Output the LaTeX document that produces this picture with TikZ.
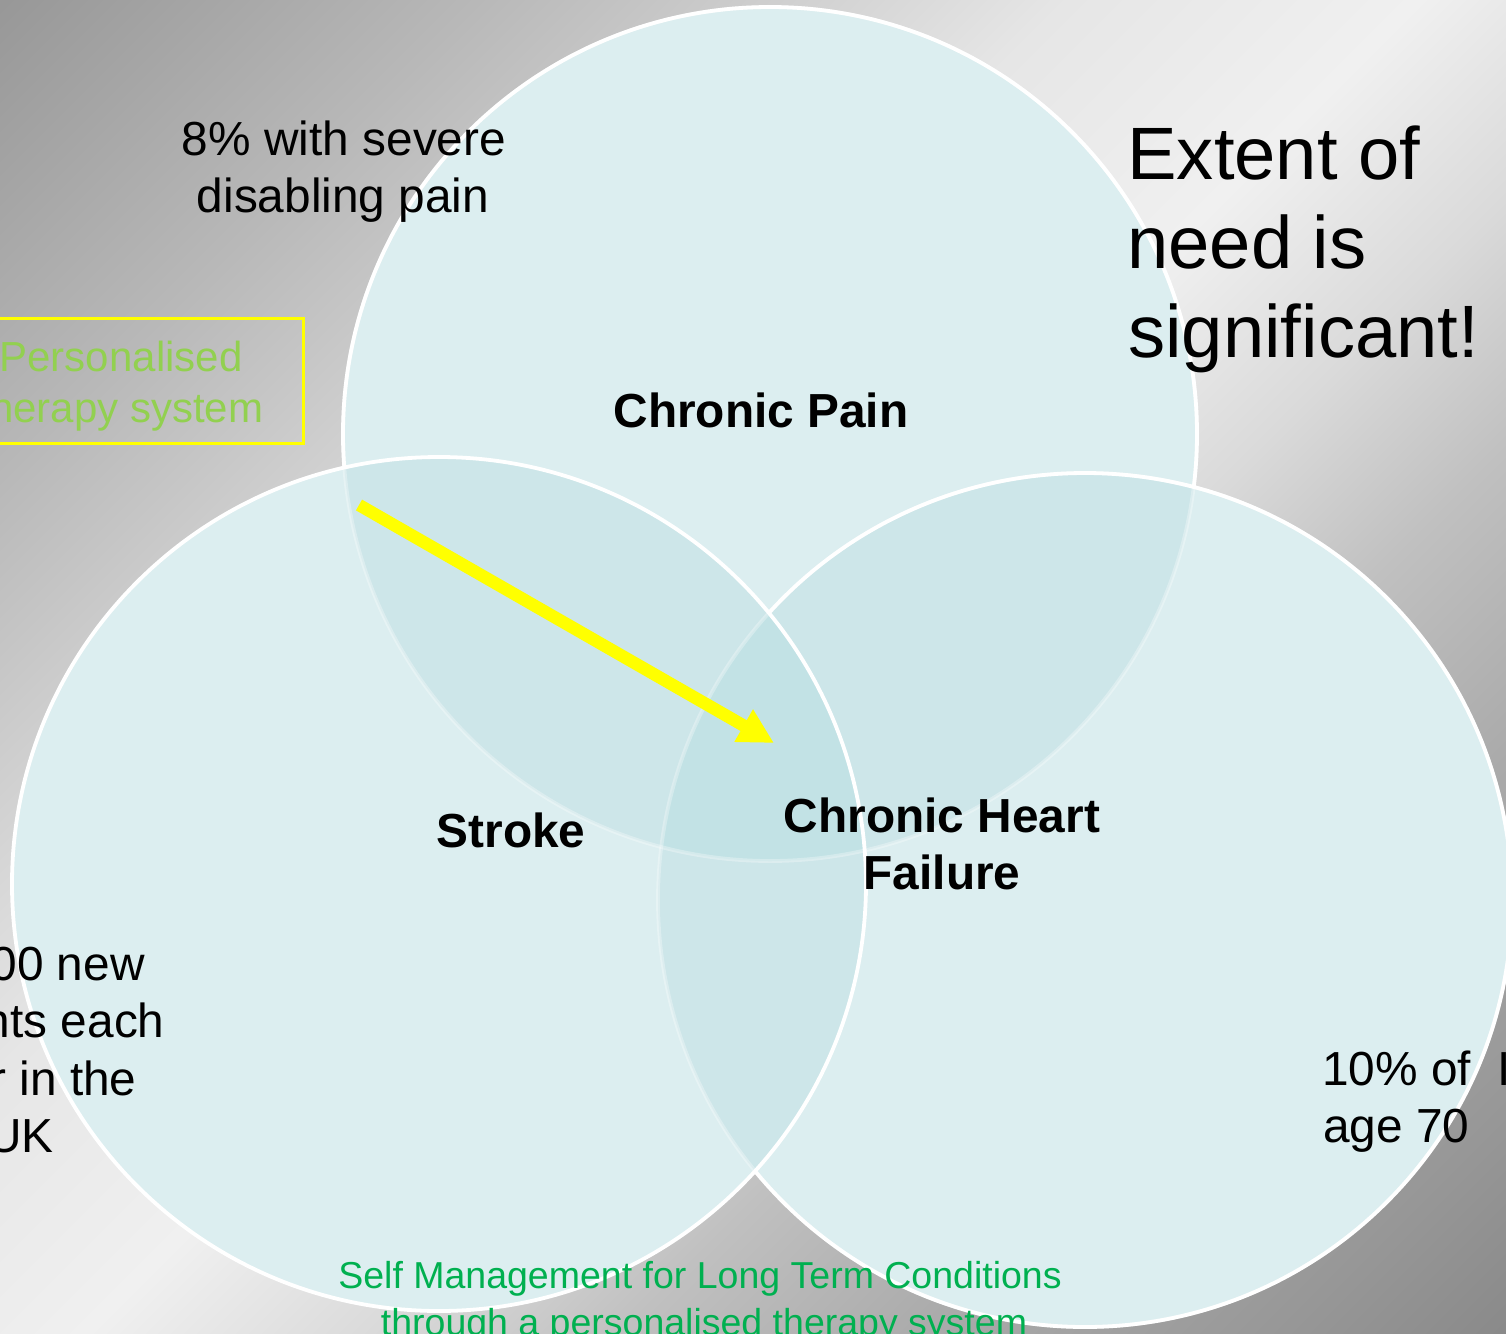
\documentclass[tikz,border=0pt]{standalone}
\usepackage{fontspec}
\setmainfont{Liberation Sans}
\usetikzlibrary{arrows.meta}

% slide background greys
\definecolor{bgc138}{RGB}{138,138,138}
\definecolor{bgc150}{RGB}{150,150,150}
\definecolor{bgc152}{RGB}{152,152,152}
\definecolor{bgc168}{RGB}{168,168,168}
\definecolor{bgc170}{RGB}{170,170,170}
\definecolor{bgc184}{RGB}{184,184,184}
\definecolor{bgc192}{RGB}{192,192,192}
\definecolor{bgc196}{RGB}{196,196,196}
\definecolor{bgc218}{RGB}{218,218,218}
\definecolor{bgc230}{RGB}{230,230,230}
\definecolor{bgc240}{RGB}{240,240,240}

% Venn fills
\definecolor{vennone}{RGB}{220,238,240}
\definecolor{venntwo}{RGB}{205,230,233}
\definecolor{vennthree}{RGB}{194,226,229}

\definecolor{arrowyellow}{RGB}{255,255,0}
\definecolor{titlegreen}{RGB}{0,176,80}
\definecolor{boxgreen}{RGB}{146,208,80}

% diagonal band: dark corners top-left / bottom-right, light along the other diagonal
\pgfdeclarehorizontalshading{slidebg}{100bp}{%
  color(0bp)=(bgc152); color(14.6bp)=(bgc152); color(20.5bp)=(bgc168);
  color(26.4bp)=(bgc184); color(30.4bp)=(bgc196); color(41.2bp)=(bgc230);
  color(50bp)=(bgc240); color(57.1bp)=(bgc218); color(63.4bp)=(bgc192);
  color(71.2bp)=(bgc170); color(80.4bp)=(bgc150); color(85.4bp)=(bgc138);
  color(100bp)=(bgc138)}

\newcommand{\vennR}{213.5pt}

\begin{document}
\begin{tikzpicture}[x=0.5pt, y=-0.5pt,
  txt/.style={inner sep=0pt, anchor=base, font=\fontsize{23.9}{28}\selectfont},
  lbl/.style={inner sep=0pt, anchor=base, font=\fontsize{23.9}{28}\selectfont\bfseries},
  bigtxt/.style={inner sep=0pt, anchor=base west, font=\fontsize{37.1}{44}\selectfont},
  boxtxt/.style={inner sep=0pt, anchor=base, text=boxgreen, font=\fontsize{21}{25}\selectfont},
  greentxt/.style={inner sep=0pt, anchor=base, text=titlegreen, font=\fontsize{18.75}{22}\selectfont},
  rim/.style={draw=white, line width=1.9pt},
  faintrim/.style={draw=white, draw opacity=0.3, line width=1.9pt},
  notebox/.style={draw=arrowyellow, line width=1.5pt, inner sep=0pt},
  pointer/.style={draw=arrowyellow, line width=6.2pt,
    -{Triangle[length=17.5pt, width=17.5pt]}},
]
\useasboundingbox (0,0) rectangle (1506,1334);
\clip (0,0) rectangle (1506,1334);

% background
\shade[shading=slidebg, shading angle=-45] (0,0) rectangle (1506,1334);

% circle centres
\coordinate (cPain)   at (770,434);
\coordinate (cStroke) at (439,884);
\coordinate (cCHF)    at (1085,900);

% single regions
\fill[vennone] (cPain) circle[radius=\vennR];
\fill[vennone] (cStroke) circle[radius=\vennR];
\fill[vennone] (cCHF) circle[radius=\vennR];

% pairwise overlaps
\begin{scope}
  \clip (cPain) circle[radius=\vennR];
  \fill[venntwo] (cStroke) circle[radius=\vennR];
  \fill[venntwo] (cCHF) circle[radius=\vennR];
\end{scope}
\begin{scope}
  \clip (cStroke) circle[radius=\vennR];
  \fill[venntwo] (cCHF) circle[radius=\vennR];
\end{scope}
% triple overlap
\begin{scope}
  \clip (cPain) circle[radius=\vennR];
  \clip (cStroke) circle[radius=\vennR];
  \fill[vennthree] (cCHF) circle[radius=\vennR];
\end{scope}

% rims: faint where covered, solid where on top
\draw[faintrim] (cPain) circle[radius=\vennR];
\draw[faintrim] (cCHF) circle[radius=\vennR];
\begin{scope}[even odd rule]
  \clip (-200,-200) rectangle (1800,1600) (cStroke) circle[radius=\vennR];
  \draw[rim] (cCHF) circle[radius=\vennR];
  \begin{scope}[even odd rule]
    \clip (-200,-200) rectangle (1800,1600) (cCHF) circle[radius=\vennR];
    \draw[rim] (cPain) circle[radius=\vennR];
  \end{scope}
\end{scope}
\draw[rim] (cStroke) circle[radius=\vennR];

% yellow pointer
\coordinate (arrS) at (359,505);
\coordinate (arrT) at (774,743);
\draw[pointer] (arrS) -- (arrT);

% circle labels
\node[lbl] (painlbl) at (761,427) {Chronic Pain};
\node[lbl] (strokelbl) at (511,847) {Stroke};
\node[lbl] (chflbla) at (942,832) {Chronic Heart};
\node[lbl] (chflblb) at (942,889) {Failure};

% notes
\node[txt] (sevA) at (344,155) {8\% with severe};
\node[txt] (sevB) at (343,212) {disabling pain};

\node[txt, anchor=base east] (strA) at (145,980) {00 new};
\node[txt, anchor=base east] (strB) at (165,1037) {nts each};
\node[txt, anchor=base east] (strC) at (137,1095) {r in the};
\node[txt, anchor=base east] (strD) at (54,1152) {UK};

\node[txt, anchor=base west] (hfA) at (1322,1085) {10\% of\kern13.2pt I};
\node[txt, anchor=base west] (hfB) at (1323,1142) {age 70};

\node[bigtxt] (extA) at (1127,179) {Extent of};
\node[bigtxt] (extB) at (1127,268) {need is};
\node[bigtxt] (extC) at (1128,357) {significant!};

% boxed note at the left edge
\node[notebox, minimum width=182pt, minimum height=62.5pt] (tsbox) at (121,380.8) {};
\node[boxtxt] (tsA) at (121,371) {Personalised};
\node[boxtxt] (tsB) at (121,422) {therapy system};

% footer
\node[greentxt] (footA) at (700,1288) {Self Management for Long Term Conditions};
\node[greentxt] (footB) at (704,1335) {through a personalised therapy system};
\end{tikzpicture}
\end{document}
